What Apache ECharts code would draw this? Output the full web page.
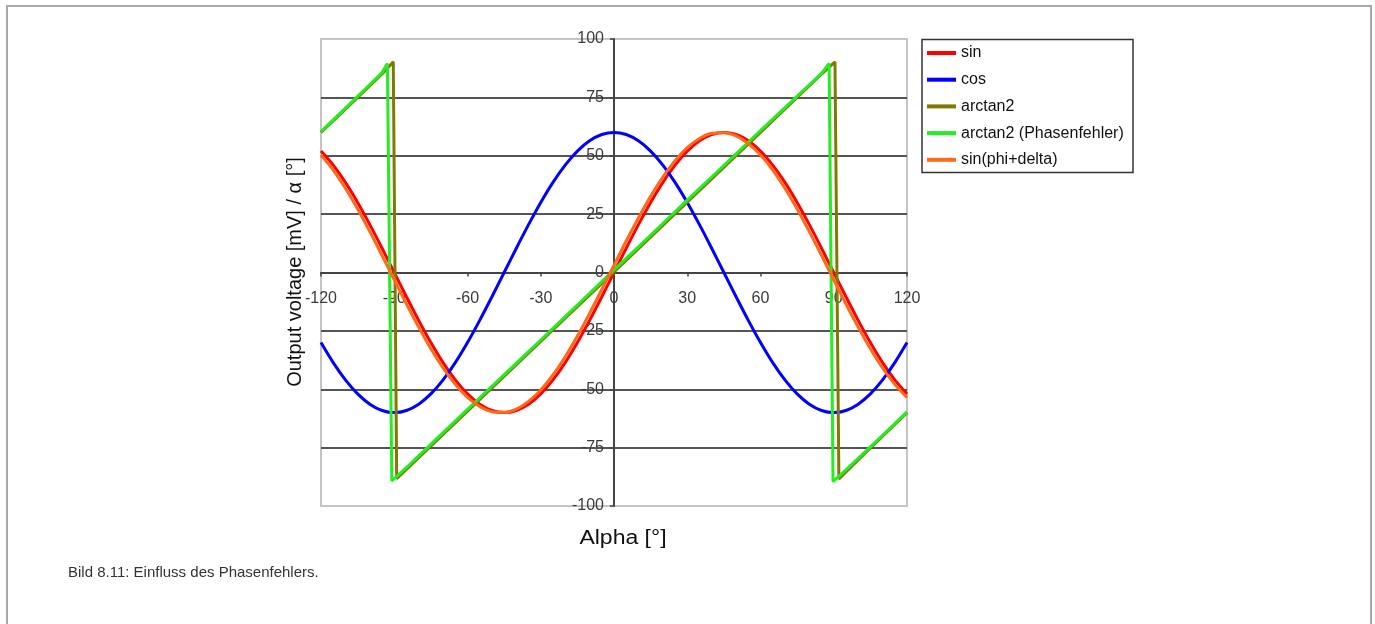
<!DOCTYPE html>
<html>
<head>
<meta charset="utf-8">
<script src="https://cdn.jsdelivr.net/npm/echarts@6/dist/echarts.min.js"></script>
<style>
  html, body { margin: 0; padding: 0; background: #fff; overflow: hidden; }
  #chart { position: absolute; left: 0; top: 0; width: 1375px; height: 624px; }
  #frame { position: absolute; left: 6px; top: 5px; width: 1362px; height: 700px;
           border: 2px solid #a8a8a8; border-bottom: none; pointer-events: none; }
</style>
</head>
<body>
<div id="chart"></div>
<div id="frame"></div>
<script>
// ---- data ----
const seriesNames = ['sin', 'cos', 'arctan2', 'arctan2 (Phasenfehler)', 'sin(phi+delta)'];
const xTicks = [-120, -90, -60, -30, 0, 30, 60, 90, 120];
const yTicks = [-100, -75, -50, -25, 0, 25, 50, 75, 100];

const alpha = [-120,-115,-110,-105,-100,-95,-90,-85,-80,-75,-70,-65,-60,-55,-50,-45,-40,-35,-30,-25,-20,-15,-10,-5,
               0,5,10,15,20,25,30,35,40,45,50,55,60,65,70,75,80,85,90,95,100,105,110,115,120];
const sinVals = [52.0,46.0,38.6,30.0,20.5,10.4,0,-10.4,-20.5,-30.0,-38.6,-46.0,-52.0,-56.4,-59.1,-60.0,-59.1,-56.4,-52.0,-46.0,-38.6,-30.0,-20.5,-10.4,
                 0,10.4,20.5,30.0,38.6,46.0,52.0,56.4,59.1,60.0,59.1,56.4,52.0,46.0,38.6,30.0,20.5,10.4,0,-10.4,-20.5,-30.0,-38.6,-46.0,-52.0];
const cosVals = [-30.0,-38.6,-46.0,-52.0,-56.4,-59.1,-60.0,-59.1,-56.4,-52.0,-46.0,-38.6,-30.0,-20.5,-10.4,0,10.4,20.5,30.0,38.6,46.0,52.0,56.4,59.1,
                 60.0,59.1,56.4,52.0,46.0,38.6,30.0,20.5,10.4,0,-10.4,-20.5,-30.0,-38.6,-46.0,-52.0,-56.4,-59.1,-60.0,-59.1,-56.4,-52.0,-46.0,-38.6,-30.0];
const sinDeltaVals = [50.3,43.9,36.1,27.2,17.5,7.3,-3.1,-13.5,-23.4,-32.7,-40.9,-47.9,-53.5,-57.4,-59.6,-59.9,-58.5,-55.2,-50.3,-43.9,-36.1,-27.2,-17.5,-7.3,
                      3.1,13.5,23.4,32.7,40.9,47.9,53.5,57.4,59.6,59.9,58.5,55.2,50.3,43.9,36.1,27.2,17.5,7.3,-3.1,-13.5,-23.4,-32.7,-40.9,-47.9,-53.5];

const atanAlpha = [-120,-110,-100,-95,-90.4,-89,-80,-60,-40,-20,0,20,40,60,80,85,90.5,92.1,100,110,120];
const atanVals  = [60,70,80,85,90.2,-88.3,-79.3,-59.4,-39.5,-19.6,0.3,20.2,40.1,60,80,85,90.2,-88.4,-80.3,-70.1,-60];

const atanPhAlpha = [-120,-110,-100,-95,-92.8,-91,-85,-80,-70,-60,-50,-40,-30,-20,-10,0,10,20,30,40,50,60,70,80,85,88.1,89.7,95,100,110,120];
const atanPhVals  = [60.3,70.4,80.5,85.6,89.5,-89.3,-83.5,-78.5,-68.6,-58.6,-48.7,-38.8,-28.9,-18.9,-8.9,1.1,11.0,21.0,31.0,40.9,50.8,60.8,70.6,80.4,85.3,89.5,-89.6,-84.5,-79.6,-69.7,-59.7];

const colors = ['#ff0000', '#0000ff', '#7f7a00', '#22ee22', '#ff6a1a'];

function zip(xs, ys) { return xs.map((x, i) => [x, ys[i]]); }

const chart = echarts.init(document.getElementById('chart'), null, { renderer: 'canvas' });
const FONT = 'Liberation Sans, Arial, sans-serif';

const gridColors = yTicks.map((v, i) => (i === 0 || i === yTicks.length - 1) ? 'rgba(0,0,0,0)' : '#555');

const GRID = { left: 321, top: 39, width: 586, height: 467 };

const baseLine = (name, data, color, smooth, z) => ({
  name, type: 'line', data, symbol: 'none', smooth, z,
  lineStyle: { color, width: 3 }, itemStyle: { color }, clip: true, animation: false
});

chart.setOption({
  animation: false,
  backgroundColor: '#fff',
  color: colors,
  grid: Object.assign({ show: true, borderColor: '#c4c4c4', borderWidth: 2, backgroundColor: '#fff' }, GRID),
  xAxis: {
    type: 'value', min: -120, max: 120, interval: 30, position: 'bottom',
    offset: -GRID.height / 2,
    axisLine: { onZero: false, lineStyle: { color: '#444', width: 2 } },
    axisTick: { show: true, length: 4, lineStyle: { color: '#444', width: 1.5 } },
    axisLabel: { margin: 18, fontFamily: FONT, fontSize: 16, color: '#3a3a3a',
                 formatter: v => xTicks.includes(v) ? String(v) : '' },
    splitLine: { show: false }
  },
  yAxis: {
    type: 'value', min: -100, max: 100, interval: 25, position: 'left',
    offset: -GRID.width / 2,
    axisLine: { onZero: false, lineStyle: { color: '#444', width: 2 } },
    axisTick: { show: true, length: 4, lineStyle: { color: '#444', width: 1.5 } },
    axisLabel: { margin: 10, fontFamily: FONT, fontSize: 16, color: '#3a3a3a',
                 formatter: v => yTicks.includes(v) ? String(v) : '' },
    splitLine: { show: true, lineStyle: { color: gridColors, width: 2 } }
  },
  legend: {
    orient: 'vertical', left: 927, top: 45, padding: 0,
    itemWidth: 29, itemHeight: 4, itemGap: 10.7, icon: 'rect',
    textStyle: { fontFamily: FONT, fontSize: 16, lineHeight: 16, color: '#111' },
    data: seriesNames
  },
  graphic: [
    { type: 'rect', z: 0, shape: { x: 922, y: 39.5, width: 211, height: 133 },
      style: { fill: '#fff', stroke: '#333', lineWidth: 1.5 } },
    { type: 'text', x: 623, y: 538, scaleX: 1.15,
      style: { text: 'Alpha [°]', fontFamily: FONT, fontSize: 20, fill: '#111', textAlign: 'center', textVerticalAlign: 'middle' } },
    { type: 'text', x: 295, y: 272, rotation: Math.PI / 2,
      style: { text: 'Output voltage [mV] / α [°]', fontFamily: FONT, fontSize: 20, fill: '#111', textAlign: 'center', textVerticalAlign: 'middle' } },
    { type: 'text', x: 68, y: 573,
      style: { text: 'Bild 8.11: Einfluss des Phasenfehlers.', fontFamily: FONT, fontSize: 15, fill: '#333', textAlign: 'left', textVerticalAlign: 'middle' } }
  ],
  series: [
    baseLine(seriesNames[0], zip(alpha, sinVals), colors[0], 0.3, 2),
    baseLine(seriesNames[1], zip(alpha, cosVals), colors[1], 0.3, 2),
    baseLine(seriesNames[2], zip(atanAlpha, atanVals), colors[2], false, 2),
    baseLine(seriesNames[3], zip(atanPhAlpha, atanPhVals), colors[3], false, 2),
    baseLine(seriesNames[4], zip(alpha, sinDeltaVals), colors[4], 0.3, 2)
  ]
});
</script>
</body>
</html>
